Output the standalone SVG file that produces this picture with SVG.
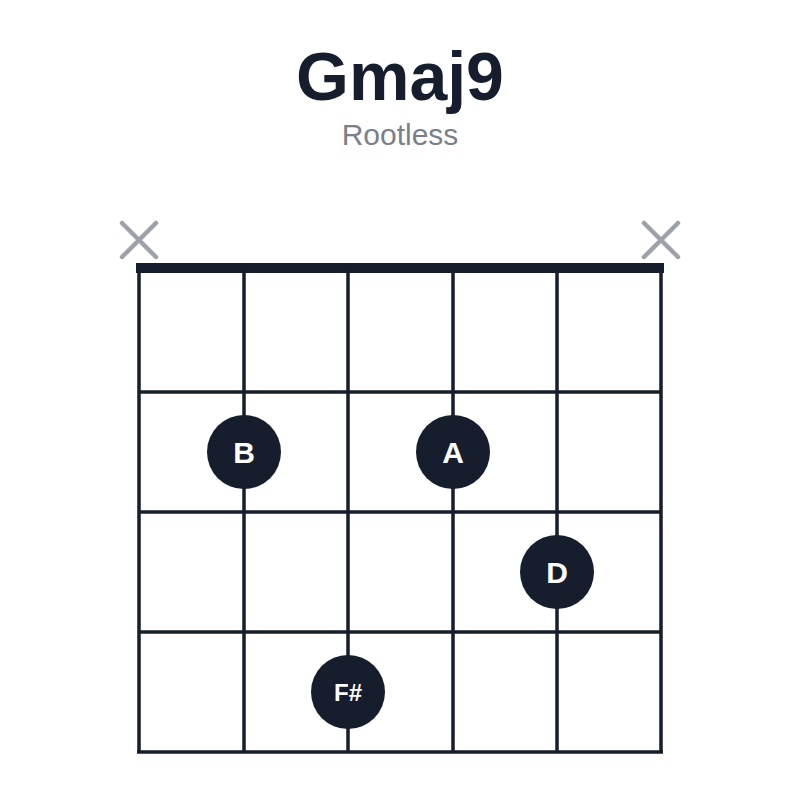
<svg xmlns="http://www.w3.org/2000/svg" width="800" height="800" viewBox="0 0 800 800">
<style>
.g{stroke:#161d2d;stroke-width:3.5;fill:none}
.x{stroke:#9da1a9;stroke-width:4.5;stroke-linecap:round}
.d{fill:#161d2d}
.t{fill:#fff;font-family:"Liberation Sans",Arial,sans-serif;font-weight:bold;text-anchor:middle}
</style>
<rect width="800" height="800" fill="#fff"/>
<text x="400" y="100" text-anchor="middle" font-family="Liberation Sans,Arial,sans-serif" font-weight="bold" font-size="68" fill="#161d2d">Gmaj9</text>
<text x="400" y="145" text-anchor="middle" font-family="Liberation Sans,Arial,sans-serif" font-size="30" fill="#7b7f88">Rootless</text>
<g id="mutes">
<path class="x" d="M122 223L156 257M156 223L122 257"/>
<path class="x" d="M644 223L678 257M678 223L644 257"/>
</g>
<g id="grid">
<rect x="136" y="263" width="528" height="10" fill="#161d2d"/>
<path class="g" d="M139 268V752M244 268V752M348 268V752M453 268V752M557 268V752M661 268V752M139 392H661M139 512H661M139 632H661M137 752H663"/>
</g>
<g id="dotB"><circle class="d" cx="244" cy="452" r="37"/><text class="t" x="244" y="463" font-size="30">B</text></g>
<g id="dotA"><circle class="d" cx="453" cy="452" r="37"/><text class="t" x="453" y="463" font-size="30">A</text></g>
<g id="dotD"><circle class="d" cx="557" cy="572" r="37"/><text class="t" x="557" y="583" font-size="30">D</text></g>
<g id="dotF"><circle class="d" cx="348" cy="692" r="37"/><text class="t" x="348" y="701" font-size="24">F#</text></g>
</svg>
